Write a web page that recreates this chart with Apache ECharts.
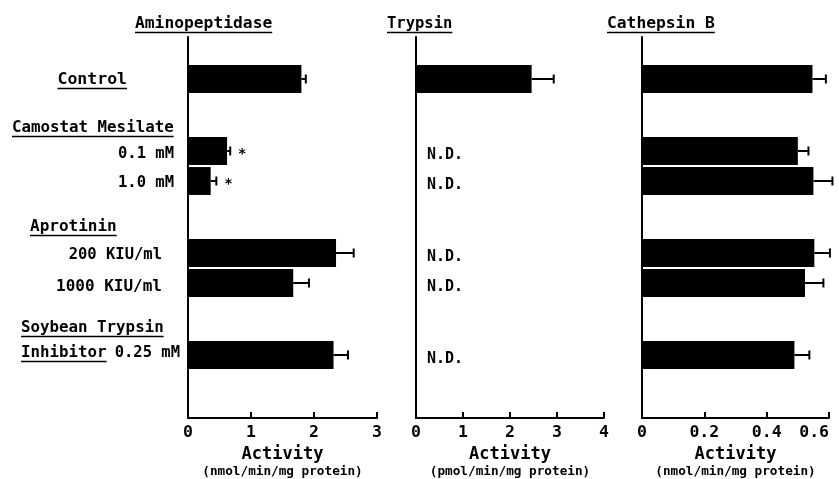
<!DOCTYPE html>
<html>
<head>
<meta charset="utf-8">
<script src="https://cdn.jsdelivr.net/npm/echarts@6/dist/echarts.min.js"></script>
<style>html,body{margin:0;padding:0;background:#fff;}#c{width:839px;height:479px;}</style>
</head>
<body>
<div id="c"></div>
<script>
// ---- data ----
const categories = ['Control', 'Camostat Mesilate 0.1 mM', 'Camostat Mesilate 1.0 mM', 'Aprotinin 200 KIU/ml', 'Aprotinin 1000 KIU/ml', 'Soybean Trypsin Inhibitor 0.25 mM'];
const groupOf = [0, 1, 1, 2, 2, 3];
const panelTitles = ['Aminopeptidase', 'Trypsin', 'Cathepsin B'];
const aminoMean = [1.80, 0.62, 0.36, 2.35, 1.67, 2.31];
const aminoSE = [0.07, 0.05, 0.09, 0.28, 0.25, 0.23];
const aminoSig = [false, true, true, false, false, false];
const trypsinMean = [2.46, null, null, null, null, null]; // null = N.D.
const trypsinSE = [0.47, null, null, null, null, null];
const cathMean = [0.547, 0.50, 0.55, 0.553, 0.523, 0.489];
const cathSE = [0.043, 0.034, 0.061, 0.05, 0.059, 0.048];
const aminoTicks = [0, 1, 2, 3];
const trypsinTicks = [0, 1, 2, 3, 4];
const cathTicks = [0, 0.2, 0.4, 0.6];
const unitLabels = ['(nmol/min/mg protein)', '(pmol/min/mg protein)', '(nmol/min/mg protein)'];

// ---- layout (row positions derived from group structure) ----
const FONT = '"DejaVu Sans Mono", monospace';
const W = 'bold ';
const rowPos = [];
{
  let r = 1.4;
  for (let i = 0; i < categories.length; i++) {
    if (i > 0) r += (groupOf[i] === groupOf[i - 1]) ? 1 : 2.4;
    rowPos.push(r);
  }
}
const ROW_MAX = 12.7;
const BAR_T = 0.93;

const grids = [
  {left: 188, width: 189, top: 37, height: 381, outerBoundsMode: 'none', containLabel: false},
  {left: 416, width: 188, top: 37, height: 381, outerBoundsMode: 'none', containLabel: false},
  {left: 642, width: 187, top: 37, height: 381, outerBoundsMode: 'none', containLabel: false}
];
const tickSets = [aminoTicks, trypsinTicks, cathTicks];

function barItem(params, api) {
  const v = api.value(0), row = api.value(1), se = api.value(2), sig = api.value(3);
  const p0 = api.coord([0, row]);
  const p1 = api.coord([v, row]);
  const pe = api.coord([v + se, row]);
  const h = api.size([0, BAR_T])[1];
  const children = [
    {type: 'rect', shape: {x: p0[0], y: p0[1] - h / 2, width: p1[0] - p0[0], height: h}, style: {fill: '#000'}},
    {type: 'line', shape: {x1: p1[0], y1: p1[1], x2: pe[0], y2: pe[1]}, style: {stroke: '#000', lineWidth: 2}},
    {type: 'line', shape: {x1: pe[0], y1: pe[1] - 4.5, x2: pe[0], y2: pe[1] + 4.5}, style: {stroke: '#000', lineWidth: 2}}
  ];
  if (sig) {
    children.push({type: 'text', style: {text: '*', x: pe[0] + 12, y: pe[1] + 3, font: W + '14px ' + FONT, align: 'center', verticalAlign: 'middle', fill: '#000'}});
  }
  return {type: 'group', children: children};
}
function ndItem(params, api) {
  const p = api.coord([0, api.value(1)]);
  return {type: 'text', style: {text: 'N.D.', x: p[0] + 11, y: p[1] + 4, font: W + '15px ' + FONT, align: 'left', verticalAlign: 'middle', fill: '#000'}};
}

function seriesData(mean, se, sig) {
  const d = [];
  mean.forEach((m, i) => { if (m !== null) d.push([m, rowPos[i], se[i], sig ? (sig[i] ? 1 : 0) : 0]); });
  return d;
}
function ndData(mean) {
  const d = [];
  mean.forEach((m, i) => { if (m === null) d.push([0, rowPos[i]]); });
  return d;
}

const xAxes = tickSets.map((t, k) => ({
  type: 'value', gridIndex: k, position: 'bottom', min: t[0], max: t[t.length - 1], interval: t[1] - t[0],
  axisLine: {show: true, onZero: false, lineStyle: {color: '#000', width: 2}},
  axisTick: {show: true, inside: true, length: 6, lineStyle: {color: '#000', width: 2}},
  axisLabel: {color: '#000', fontFamily: FONT, fontWeight: 'bold', fontSize: 16.5, margin: 6,
    alignMaxLabel: k === 2 ? 'right' : null,
    formatter: v => { const m = t.find(x => Math.abs(x - v) < 1e-9); return m === undefined ? '' : String(m); }},
  splitLine: {show: false},
  name: '{a|Activity}\n{b|' + unitLabels[k] + '}', nameLocation: 'middle', nameGap: 25,
  nameTextStyle: {rich: {a: {fontFamily: FONT, fontWeight: 'bold', fontSize: 17, lineHeight: 18, color: '#000'}, b: {fontFamily: FONT, fontWeight: 'bold', fontSize: 12.7, lineHeight: 16, color: '#000'}}}
}));
const yAxes = grids.map((g, k) => ({
  type: 'value', gridIndex: k, position: 'left', min: 0, max: ROW_MAX, inverse: true,
  axisLine: {show: true, onZero: false, lineStyle: {color: '#000', width: 2}},
  axisTick: {show: false}, axisLabel: {show: false}, splitLine: {show: false}
}));

// ---- text helpers ----
const mctx = document.createElement('canvas').getContext('2d');
function textW(str, size) { mctx.font = W + size + 'px ' + FONT; return mctx.measureText(str).width; }
const graphics = [];
function addText(str, x, y, align, size, underline) {
  graphics.push({type: 'text', style: {text: str, x: x, y: y, font: W + size + 'px ' + FONT, align: align, verticalAlign: 'middle', fill: '#000'}});
  if (underline) {
    const w = textW(str, size);
    const x0 = align === 'right' ? x - w : (align === 'center' ? x - w / 2 : x);
    graphics.push({type: 'line', shape: {x1: x0, y1: y + 8.5, x2: x0 + w, y2: y + 8.5}, style: {stroke: '#000', lineWidth: 1.6}});
  }
}
// panel titles
addText(panelTitles[0], 135, 24, 'left', 16.3, true);
addText(panelTitles[1], 387, 24, 'left', 15.5, true);
addText(panelTitles[2], 607, 24, 'left', 16.3, true);
// left labels
addText('Control', 127, 80, 'right', 16.5, true);
addText('Camostat Mesilate', 12, 128, 'left', 15.8, true);
addText('0.1 mM', 174, 154, 'right', 15.5, false);
addText('1.0 mM', 174, 183, 'right', 15.5, false);
addText('Aprotinin', 30, 227, 'left', 16, true);
addText('200 KIU/ml', 162, 255, 'right', 15.5, false);
addText('1000 KIU/ml', 162, 287, 'right', 16, false);
addText('Soybean Trypsin', 21, 328, 'left', 15.8, true);
addText('Inhibitor', 21, 353, 'left', 15.8, true);
addText('0.25 mM', 180, 353, 'right', 15.5, false);

const chart = echarts.init(document.getElementById('c'), null, {renderer: 'canvas'});
chart.setOption({
  animation: false,
  backgroundColor: '#fff',
  grid: grids,
  xAxis: xAxes,
  yAxis: yAxes,
  graphic: graphics,
  series: [
    {type: 'custom', xAxisIndex: 0, yAxisIndex: 0, renderItem: barItem, data: seriesData(aminoMean, aminoSE, aminoSig)},
    {type: 'custom', xAxisIndex: 1, yAxisIndex: 1, renderItem: barItem, data: seriesData(trypsinMean, trypsinSE, null)},
    {type: 'custom', xAxisIndex: 1, yAxisIndex: 1, renderItem: ndItem, data: ndData(trypsinMean)},
    {type: 'custom', xAxisIndex: 2, yAxisIndex: 2, renderItem: barItem, data: seriesData(cathMean, cathSE, null)}
  ]
});
</script>
</body>
</html>
